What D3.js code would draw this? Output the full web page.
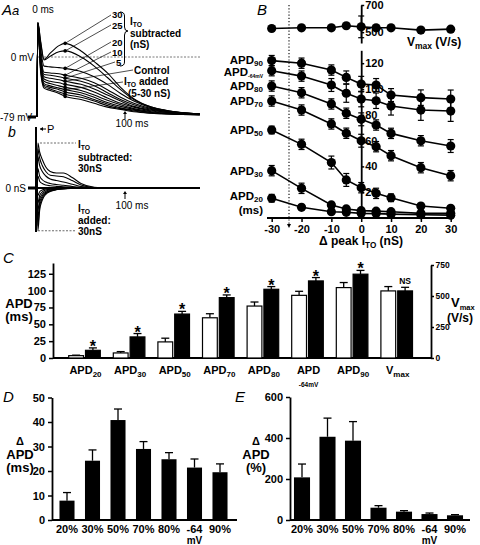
<!DOCTYPE html>
<html><head><meta charset="utf-8">
<script src="https://cdn.jsdelivr.net/npm/d3@7"></script>
<style>body{margin:0;background:#fff}svg{display:block}</style>
</head><body>
<svg id="c" width="480" height="545"></svg>
<script>
// ---------------- DATA ----------------
// Panel Aa: action potentials (time ms, membrane potential mV)
const apTime  = [0, 1, 4, 8, 15, 25, 32, 50, 65, 80, 95, 110, 130, 150, 185];
const apSub30 = [-79, 45, 22, -3, 5, 15, 18, 8, -6, -21, -40, -55, -66, -71, -75];
const apSub25 = [-79, 45, 20, -4, 1, 7, 8, 0, -12, -27, -43, -56, -66, -71, -75];
const apSub20 = [-79, 45, 12, -12, -13, -14, -15, -19, -26, -36, -48, -58, -67, -71, -75];
const apSub10 = [-79, 45, 6, -20, -21, -22, -24, -28, -34, -43, -53, -61, -68, -72, -75];
const apSub5  = [-79, 45, 3, -23, -24, -26, -28, -32, -38, -47, -56, -63, -69, -72, -75];
const apCtrl  = [-79, 45, 0, -26, -28, -30, -32, -36, -42, -50, -58, -65, -70, -73, -75];
const apAdd5  = [-79, 44, -3, -29, -32, -34, -36, -40, -46, -54, -61, -66, -71, -73, -75];
const apAdd10 = [-79, 44, -6, -32, -35, -38, -40, -44, -50, -57, -63, -68, -72, -74, -76];
const apAdd15 = [-79, 43, -9, -35, -38, -41, -43, -47, -53, -60, -65, -69, -73, -74, -76];
const apAdd20 = [-79, 43, -12, -37, -40, -43, -46, -50, -56, -62, -67, -70, -73, -75, -76];
const apAdd25 = [-79, 42, -15, -39, -42, -46, -49, -53, -58, -64, -68, -71, -74, -75, -76];
const apAdd30 = [-79, 42, -18, -41, -44, -48, -52, -56, -61, -66, -69, -72, -74, -75, -76];

// Panel Ab: I_TO conductance traces (time ms, nS)
const itoTime  = [0, 1, 3, 6, 10, 15, 22, 30, 40, 50, 65, 80, 185];
const itoSub30 = [0, 30, 24, 19, 14, 11, 10, 10, 7, 3, 0.5, 0, 0];
const itoSub25 = [0, 26, 20, 15, 11, 8.5, 8, 7.5, 5, 2, 0.3, 0, 0];
const itoSub20 = [0, 21, 15, 11, 8, 6, 5, 4, 2.5, 1, 0.2, 0, 0];
const itoSub10 = [0, 13, 8, 5.5, 4, 3, 2.3, 1.8, 1, 0.4, 0, 0, 0];
const itoSub5  = [0, 8, 4.5, 3, 2, 1.5, 1.1, 0.8, 0.4, 0.1, 0, 0, 0];
const itoAdd5  = [0, -5, -2.5, -1.3, -0.7, -0.4, -0.2, -0.1, 0, 0, 0, 0, 0];
const itoAdd10 = [0, -10, -5, -2.6, -1.4, -0.8, -0.4, -0.2, 0, 0, 0, 0, 0];
const itoAdd15 = [0, -15, -7.5, -4, -2.1, -1.2, -0.6, -0.3, -0.1, 0, 0, 0, 0];
const itoAdd20 = [0, -20, -10, -5.3, -2.8, -1.6, -0.8, -0.4, -0.1, 0, 0, 0, 0];
const itoAdd25 = [0, -25, -12.5, -6.6, -3.5, -2, -1, -0.5, -0.2, 0, 0, 0, 0];
const itoAdd30 = [0, -28.5, -15, -8, -4.2, -2.4, -1.2, -0.6, -0.2, 0, 0, 0, 0];

// Panel B: Δ peak I_TO (nS)
const itoSteps = [-30, -20, -10, -5, 0, 5, 10, 20, 30];
const vmaxB    = [527, 532, 532, 547, 539, 532, 532, 515, 522];
const vmaxBErr = [15, 15, 15, 15, 80, 15, 12, 12, 12];
const apd90B   = [122, 120, 114.7, 109, 103.8, 103.1, 95.3, 93.3, 92.2];
const apd90BErr= [4, 4, 4, 5, 6, 5, 5, 6, 7];
const apd64B   = [114.2, 110, 103.1, 96.7, 92.2, 90.9, 86.8, 83.7, 82.9];
const apd64BErr= [4, 4, 5, 7, 6, 6, 7, 8, 8];
const apd80B   = [102.3, 97.1, 88.4, 81.2, 76.5, 72.1, 65.6, 59.9, 55.8];
const apd80BErr= [4, 4, 4, 4, 5, 4, 4, 4, 5];
const apd70B   = [90.7, 83.7, 72.9, 65.7, 59.9, 55.3, 48.3, 39, 32.8];
const apd70BErr= [4, 4, 4, 4, 5, 4, 4, 4, 4];
const apd50B   = [68.2, 57.1, 43, 29.5, 23.5, 19.1, 15.7, 9.3, 7.5];
const apd50BErr= [3, 4, 5, 5, 4, 4, 3, 2, 2];
const apd30B   = [36.7, 23, 10.1, 7, 5.7, 5.3, 4.9, 3.6, 3.6];
const apd30BErr= [4, 4, 2, 2, 1.5, 1, 1, 1, 1];
const apd20B   = [15.3, 8.3, 4.9, 4.4, 3.6, 3.4, 3, 2.5, 2.2];
const apd20BErr= [3, 1, 1, 1, 1, 1, 1, 1, 1];
const bXTicks  = [-30, -20, -10, 0, 10, 20, 30];
const bYTicks  = [20, 40, 60, 80, 100, 120];
const bVTicks  = [500, 700];

// Panel C
const cCats       = ["APD_{20}", "APD_{30}", "APD_{50}", "APD_{70}", "APD_{80}", "APD", "APD_{90}", "V_{max}"];
const cControl    = [3.5, 7.5, 23.9, 59.7, 77.1, 93, 104.5, 541];
const cControlErr = [0.7, 2, 5.5, 6, 6, 6, 7.5, 35];
const cSubtracted = [11.4, 31.3, 65.2, 89.6, 102, 114.4, 124.4, 541];
const cSubErr     = [3.6, 5, 4, 4, 4, 5, 5.6, 29];
const cSig        = ["*", "*", "*", "*", "*", "*", "*", "NS"];
const cYTicks     = [0, 25, 50, 75, 100, 125];
const cVTicks     = [0, 250, 500, 750];

// Panels D, E
const deCats  = ["20%", "30%", "50%", "70%", "80%", "-64", "90%"];
const dValues = [7.9, 24.2, 40.8, 29, 24.8, 21.4, 19.5];
const dErr    = [3.3, 4.4, 4.5, 3, 2.7, 3.5, 3.4];
const dTicks  = [0, 10, 20, 30, 40, 50];
const eValues = [208, 406, 387, 60, 40.7, 29, 23];
const eErr    = [65, 91, 93, 10, 5, 5, 3];
const eTicks  = [0, 200, 400, 600];

// ---------------- DRAWING ----------------
const FONT = '"Liberation Sans", Arial, Helvetica, sans-serif';
const svg = d3.select("#c").attr("font-family", FONT);

function rich(sel, x, y, s, o = {}) {
  const size = o.size || 11;
  const t = sel.append("text").attr("x", x).attr("y", y)
    .attr("font-size", size).attr("font-weight", o.weight || "bold")
    .attr("text-anchor", o.anchor || "start").attr("fill", "#000")
    .attr("font-family", FONT);
  if (o.style) t.attr("font-style", o.style);
  const subSize = o.subSize || size * 0.68, shift = o.subShift || size * 0.25;
  const re = /_\{([^}]*)\}/g; let last = 0, m, cur = 0;
  while ((m = re.exec(s))) {
    if (m.index > last) { t.append("tspan").attr("dy", 0 - cur).text(s.slice(last, m.index)); cur = 0; }
    t.append("tspan").attr("dy", shift - cur).attr("font-size", subSize).text(m[1]); cur = shift;
    last = re.lastIndex;
  }
  if (last < s.length) { t.append("tspan").attr("dy", 0 - cur).text(s.slice(last)); }
  return t;
}
function styleAxis(g, fs) {
  g.attr("font-family", FONT);
  g.selectAll("path.domain").attr("stroke", "#000").attr("stroke-width", 1.8);
  g.selectAll(".tick line").attr("stroke", "#000").attr("stroke-width", 1.5);
  g.selectAll(".tick text").attr("fill", "#000").attr("font-size", fs || 11)
    .attr("font-weight", "bold").attr("font-family", FONT);
}

// ===== Panel Aa =====
const xA = d3.scaleLinear().domain([0, 100]).range([37, 125]);
const yAa = d3.scaleLinear().domain([0, -79]).range([57, 117]);
const gA = svg.append("g");
rich(gA, 2, 15, "A", { size: 15, weight: "normal", style: "italic" });
rich(gA, 12, 15, "a", { size: 13, weight: "normal", style: "italic" });
gA.append("line").attr("x1", 37).attr("x2", 200).attr("y1", yAa(0)).attr("y2", yAa(0))
  .attr("stroke", "#555").attr("stroke-width", 0.8).attr("stroke-dasharray", "2,1.5");
rich(gA, 43, 13, "0 ms", { size: 10, weight: "normal", anchor: "middle" });
rich(gA, 34, 61, "0 mV", { size: 10, weight: "normal", anchor: "end" });
rich(gA, 0, 121, "-79 mV", { size: 10, weight: "normal" });
gA.append("rect").attr("x", 28).attr("y", yAa(-79) - 1.5).attr("width", 8).attr("height", 3).attr("fill", "#000");

const apSeries = [apSub30, apSub25, apSub20, apSub10, apSub5, apCtrl, apAdd5, apAdd10, apAdd15, apAdd20, apAdd25, apAdd30];
const lineA = d3.line().x((d, i) => xA(apTime[i])).y(d => yAa(d)).curve(d3.curveMonotoneX);
gA.selectAll("path.ap").data(apSeries).join("path").attr("class", "ap")
  .attr("d", lineA).attr("fill", "none").attr("stroke", "#000").attr("stroke-width", 1.1);
const mi = apTime.indexOf(32);
gA.selectAll("circle.mk").data(apSeries).join("circle").attr("class", "mk")
  .attr("cx", xA(32)).attr("cy", d => yAa(d[mi])).attr("r", 1.8).attr("fill", "#000");
const leaders = [
  { s: apSub30, lx: 111, ly: 15 }, { s: apSub25, lx: 111, ly: 25 }, { s: apSub20, lx: 111, ly: 42 },
  { s: apSub10, lx: 111, ly: 52 }, { s: apSub5, lx: 115, ly: 62 }, { s: apCtrl, lx: 133, ly: 70 },
  { s: apAdd15, lx: 123, ly: 82 }];
leaders.forEach(l => gA.append("line").attr("x1", l.lx).attr("y1", l.ly).attr("x2", xA(32)).attr("y2", yAa(l.s[mi]))
  .attr("stroke", "#000").attr("stroke-width", 0.7));
[["30", 112, 18], ["25", 112, 28.5], ["20", 112, 46], ["10", 112, 56], ["5", 116, 66]].forEach(d =>
  rich(gA, d[1], d[2], d[0], { size: 9.5 }));
gA.append("path").attr("d", "M120,12 Q124.5,12 124.5,16 L124.5,27 Q124.5,31 128,31 Q124.5,31 124.5,35 L124.5,62 Q124.5,66 120,66")
  .attr("fill", "none").attr("stroke", "#000").attr("stroke-width", 1);
rich(gA, 130, 25, "I_{TO}", { size: 10, subShift: 2 });
rich(gA, 130, 37, "subtracted", { size: 10 });
rich(gA, 130, 48, "(nS)", { size: 10 });
rich(gA, 134, 74, "Control", { size: 10 });
rich(gA, 124, 85, "I_{TO} added", { size: 10, subShift: 2 });
rich(gA, 128, 97, "(5-30 nS)", { size: 10 });
function upArrow(g, x, y1, y2) {
  g.append("line").attr("x1", x).attr("x2", x).attr("y1", y1).attr("y2", y2 + 2).attr("stroke", "#000").attr("stroke-width", 1);
  g.append("path").attr("d", `M${x - 2},${y2 + 3} L${x},${y2} L${x + 2},${y2 + 3} Z`).attr("fill", "#000");
}
upArrow(gA, xA(100), 119, 111);
rich(gA, 132, 127, "100 ms", { size: 10, weight: "normal", anchor: "middle" });

// ===== Panel Ab =====
const yAb = d3.scaleLinear().domain([0, 30]).range([188, 143]);
const gAb = svg.append("g");
rich(gAb, 8, 137, "b", { size: 14, weight: "normal", style: "italic" });
gAb.append("line").attr("x1", 36).attr("x2", 36).attr("y1", 127).attr("y2", 232).attr("stroke", "#000").attr("stroke-width", 2);
gAb.append("line").attr("x1", 40).attr("x2", 46).attr("y1", 129).attr("y2", 129).attr("stroke", "#000").attr("stroke-width", 1);
gAb.append("path").attr("d", "M40,129 L43,127 L43,131 Z").attr("fill", "#000");
rich(gAb, 47, 133, "P", { size: 11, weight: "normal" });
rich(gAb, 26, 192, "0 nS", { size: 10, weight: "normal", anchor: "end" });
gAb.append("rect").attr("x", 28).attr("y", 186.5).attr("width", 8).attr("height", 3).attr("fill", "#000");
const itoSeries = [itoSub30, itoSub25, itoSub20, itoSub10, itoSub5, itoAdd5, itoAdd10, itoAdd15, itoAdd20, itoAdd25, itoAdd30];
const lineB = d3.line().x((d, i) => xA(itoTime[i])).y(d => yAb(d)).curve(d3.curveMonotoneX);
gAb.selectAll("path.ito").data(itoSeries).join("path").attr("class", "ito")
  .attr("d", lineB).attr("fill", "none").attr("stroke", "#000").attr("stroke-width", 1.1);
gAb.append("line").attr("x1", 36).attr("x2", 200).attr("y1", yAb(0)).attr("y2", yAb(0)).attr("stroke", "#000").attr("stroke-width", 2);
gAb.append("line").attr("x1", 40).attr("x2", 76).attr("y1", yAb(30)).attr("y2", yAb(30))
  .attr("stroke", "#444").attr("stroke-width", 0.8).attr("stroke-dasharray", "2,1.5");
gAb.append("line").attr("x1", 38).attr("x2", 76).attr("y1", yAb(-28.5)).attr("y2", yAb(-28.5))
  .attr("stroke", "#444").attr("stroke-width", 0.8).attr("stroke-dasharray", "2,1.5");
rich(gAb, 78, 148, "I_{TO}", { size: 10, subShift: 2 });
rich(gAb, 78, 161, "subtracted:", { size: 10 });
rich(gAb, 78, 172, "30nS", { size: 10 });
rich(gAb, 78, 212, "I_{TO}", { size: 10, subShift: 2 });
rich(gAb, 78, 224, "added:", { size: 10 });
rich(gAb, 78, 235, "30nS", { size: 10 });
upArrow(gAb, xA(100), 199, 191);
rich(gAb, 132, 209, "100 ms", { size: 10, weight: "normal", anchor: "middle" });

// ===== Panel B =====
const gB = svg.append("g");
const xB = d3.scaleLinear().domain([-30, 30]).range([271.7, 450.7]);
const yB = d3.scaleLinear().domain([0, 130]).range([218, 50.3]);
const yV = d3.scaleLinear().domain([420, 700]).range([43, 5]);
rich(gB, 257, 15, "B", { size: 15, weight: "normal", style: "italic" });
const xd = xB(-24.2);
gB.append("line").attr("x1", xd).attr("x2", xd).attr("y1", 5).attr("y2", 224)
  .attr("stroke", "#000").attr("stroke-width", 1.1).attr("stroke-dasharray", "1.2,2");
gB.append("path").attr("d", `M${xd - 2},${224} L${xd},${228} L${xd + 2},${224} Z`).attr("fill", "#000");
gB.append("line").attr("x1", 267).attr("x2", 453).attr("y1", 218).attr("y2", 218).attr("stroke", "#000").attr("stroke-width", 1.8);
const axBx = gB.append("g").attr("transform", "translate(0,218)")
  .call(d3.axisBottom(xB).tickValues(bXTicks).tickSize(4).tickSizeOuter(0).tickFormat(d => String(d)));
axBx.select("path.domain").remove();
styleAxis(axBx, 11);
rich(gB, 361, 245, "Δ peak I_{TO} (nS)", { size: 12, anchor: "middle" });
const axBy = gB.append("g").attr("transform", `translate(${xB(0)},0)`)
  .call(d3.axisRight(yB).tickValues(bYTicks).tickSize(3).tickSizeOuter(0));
styleAxis(axBy, 11);
axBy.selectAll(".tick text").attr("x", 4);
const axBv = gB.append("g").attr("transform", `translate(${xB(0)},0)`)
  .call(d3.axisRight(yV).tickValues(bVTicks).tickSize(3).tickSizeOuter(0));
styleAxis(axBv, 11);
axBv.selectAll(".tick text").attr("x", 4);

const bSeries = [
  { v: apd90B, e: apd90BErr, y: yB }, { v: apd64B, e: apd64BErr, y: yB }, { v: apd80B, e: apd80BErr, y: yB },
  { v: apd70B, e: apd70BErr, y: yB }, { v: apd50B, e: apd50BErr, y: yB }, { v: apd30B, e: apd30BErr, y: yB },
  { v: apd20B, e: apd20BErr, y: yB }, { v: vmaxB, e: vmaxBErr, y: yV }];
bSeries.forEach(s => {
  const ln = d3.line().x((d, i) => xB(itoSteps[i])).y(d => s.y(d));
  gB.append("path").attr("d", ln(s.v)).attr("fill", "none").attr("stroke", "#000").attr("stroke-width", 1.6);
  s.v.forEach((d, i) => {
    const x = xB(itoSteps[i]), y1 = s.y(d - s.e[i]), y2 = s.y(d + s.e[i]);
    gB.append("line").attr("x1", x).attr("x2", x).attr("y1", y1).attr("y2", y2).attr("stroke", "#000").attr("stroke-width", 1.2);
    [y1, y2].forEach(yy => gB.append("line").attr("x1", x - 3).attr("x2", x + 3).attr("y1", yy).attr("y2", yy).attr("stroke", "#000").attr("stroke-width", 1.2));
  });
  gB.selectAll(null).data(s.v).join("circle").attr("cx", (d, i) => xB(itoSteps[i])).attr("cy", d => s.y(d))
    .attr("r", 4.6).attr("fill", "#000");
});
[["APD_{90}", 64], ["APD_{-64mV}", 76], ["APD_{80}", 90], ["APD_{70}", 105], ["APD_{50}", 134], ["APD_{30}", 175], ["APD_{20}", 200]]
  .forEach(d => rich(gB, 263, d[1], d[0], { size: 11.5, anchor: "end", subSize: d[0].includes("64") ? 5 : 8, subShift: 2 }));
rich(gB, 263, 214, "(ms)", { size: 11.5, anchor: "end" });
rich(gB, 407, 46, "V_{max} (V/s)", { size: 12, subSize: 8.5, subShift: 2.5 });

// ===== Panel C =====
const gC = svg.append("g");
rich(gC, 3, 263, "C", { size: 15, weight: "normal", style: "italic" });
const yC = d3.scaleLinear().domain([0, 141]).range([358, 263]);
const yCV = d3.scaleLinear().domain([0, 750]).range([358, 265]);
const xC = d3.scaleBand().domain(cCats).range([62.2, 419]).padding(0);
const xCs = d3.scaleBand().domain(["ctrl", "sub"]).range([6.5, 38.1]).paddingInner(0.12);
gC.append("line").attr("x1", 53).attr("x2", 431).attr("y1", 358).attr("y2", 358).attr("stroke", "#000").attr("stroke-width", 1.8);
const axCl = gC.append("g").attr("transform", "translate(53,0)").call(d3.axisLeft(yC).tickValues(cYTicks).tickSize(4).tickSizeOuter(0));
styleAxis(axCl, 11);
const axCr = gC.append("g").attr("transform", "translate(431,0)")
  .call(d3.axisRight(yCV).tickValues(cVTicks).tickSize(3).tickPadding(1.5).tickSizeOuter(0));
styleAxis(axCr, 8.5);
cCats.forEach((c, i) => {
  const sc = i === cCats.length - 1 ? yCV : yC;
  const gx = xC(c);
  [["ctrl", cControl[i], cControlErr[i], "#fff"], ["sub", cSubtracted[i], cSubErr[i], "#000"]].forEach(b => {
    const x = gx + xCs(b[0]), w = xCs.bandwidth();
    const top = sc(b[1]), et = sc(b[1] + b[2]);
    gC.append("line").attr("x1", x + w / 2).attr("x2", x + w / 2).attr("y1", top).attr("y2", et).attr("stroke", "#000").attr("stroke-width", 1.3);
    gC.append("line").attr("x1", x + w / 2 - 4).attr("x2", x + w / 2 + 4).attr("y1", et).attr("y2", et).attr("stroke", "#000").attr("stroke-width", 1.3);
    gC.append("rect").attr("x", x).attr("y", top).attr("width", w).attr("height", 358 - top)
      .attr("fill", b[3]).attr("stroke", "#000").attr("stroke-width", 1.2);
    if (b[0] === "sub") {
      if (cSig[i] === "*") rich(gC, x + w / 2, et + 4, "*", { size: 16, anchor: "middle" });
      else rich(gC, x + w / 2, et - 3, cSig[i], { size: 8.5, anchor: "middle" });
    }
  });
  rich(gC, gx + xC.bandwidth() / 2 + 1, 374, c, { size: 11, subSize: 8, subShift: 3, anchor: "middle" });
  if (c === "APD") rich(gC, gx + xC.bandwidth() / 2 + 1, 387, "-64mV", { size: 6.5, anchor: "middle" });
});
rich(gC, 19, 308, "APD", { size: 13, anchor: "middle" });
rich(gC, 19, 321, "(ms)", { size: 13, anchor: "middle" });
rich(gC, 451, 307, "V_{max}", { size: 13, subSize: 7.5, subShift: 3 });
rich(gC, 447, 322, "(V/s)", { size: 12 });

// ===== Panels D, E =====
function barPanel(g, opt) {
  const y = d3.scaleLinear().domain(opt.domain).range([520, opt.top]);
  const x = d3.scaleBand().domain(deCats).range(opt.xr).paddingInner(opt.pad).paddingOuter(opt.pad / 2);
  const ax = g.append("g").attr("transform", `translate(${opt.ax},0)`)
    .call(d3.axisLeft(y).tickValues(opt.ticks).tickSize(4).tickSizeOuter(0));
  styleAxis(ax, 11);
  opt.values.forEach((v, i) => {
    const bx = x(deCats[i]), w = x.bandwidth(), top = y(v), et = y(v + opt.err[i]);
    g.append("line").attr("x1", bx + w / 2).attr("x2", bx + w / 2).attr("y1", top).attr("y2", et).attr("stroke", "#000").attr("stroke-width", 1.3);
    g.append("line").attr("x1", bx + w / 2 - 4).attr("x2", bx + w / 2 + 4).attr("y1", et).attr("y2", et).attr("stroke", "#000").attr("stroke-width", 1.3);
    g.append("rect").attr("x", bx).attr("y", top).attr("width", w).attr("height", 520 - top).attr("fill", "#000");
    rich(g, bx + w / 2, 532.5, deCats[i], { size: 11, anchor: "middle" });
    if (deCats[i] === "-64") rich(g, bx + w / 2, 544, "mV", { size: 10, anchor: "middle" });
  });
  g.append("line").attr("x1", opt.ax).attr("x2", opt.xend).attr("y1", 520).attr("y2", 520).attr("stroke", "#000").attr("stroke-width", 1.8);
}
const gD = svg.append("g");
rich(gD, 3, 402, "D", { size: 15, weight: "normal", style: "italic" });
barPanel(gD, { domain: [0, 50], top: 397.5, xr: [54.25, 232.75], pad: 0.41, ax: 52, xend: 237, ticks: dTicks, values: dValues, err: dErr });
rich(gD, 20, 445, "Δ", { size: 11, anchor: "middle" });
rich(gD, 20, 459, "APD", { size: 13, anchor: "middle" });
rich(gD, 20, 472, "(ms)", { size: 13, anchor: "middle" });
const gE = svg.append("g");
rich(gE, 235, 402, "E", { size: 15, weight: "normal", style: "italic" });
barPanel(gE, { domain: [0, 600], top: 397, xr: [289.25, 467.75], pad: 0.37, ax: 290, xend: 470, ticks: eTicks, values: eValues, err: eErr });
rich(gE, 256, 445, "Δ", { size: 11, anchor: "middle" });
rich(gE, 256, 459, "APD", { size: 13, anchor: "middle" });
rich(gE, 256, 472, "(%)", { size: 13, anchor: "middle" });
</script>
</body></html>
